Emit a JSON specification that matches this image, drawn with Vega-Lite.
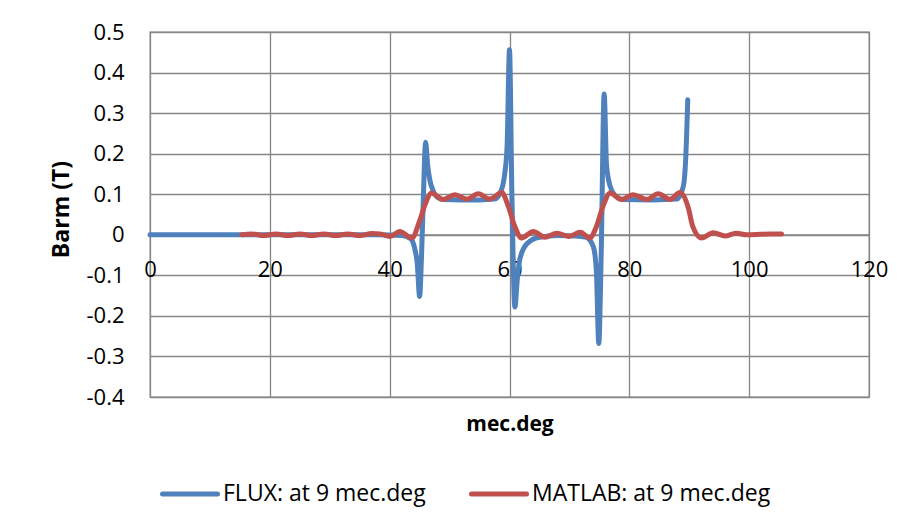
{
  "$schema": "https://vega.github.io/schema/vega-lite/v6.json",
  "width": 719,
  "height": 365,
  "autosize": {"type": "none"},
  "padding": {"left": 150, "top": 32, "right": 37, "bottom": 134},
  "background": "white",
  "config": {
    "font": "Open Sans",
    "view": {"stroke": "#868686", "strokeWidth": 1.3},
    "axisY": {
      "values": [-0.4, -0.3, -0.2, -0.1, 0, 0.1, 0.2, 0.3, 0.4, 0.5],
      "labelExpr": "toString(round(datum.value*10)/10)",
      "grid": true,
      "gridColor": "#868686",
      "gridWidth": 1.3,
      "gridOpacity": 1,
      "domain": false,
      "ticks": false,
      "labelPadding": 26,
      "labelFontSize": 22,
      "labelColor": "#000000",
      "labelFont": "Open Sans",
      "titleFont": "Open Sans",
      "titleFontSize": 23,
      "titleFontWeight": "bold",
      "titleColor": "#000000",
      "titleX": -77,
      "titleY": 177,
      "titleAngle": -90,
      "titleAlign": "center",
      "titleBaseline": "bottom",
      "zindex": 0
    }
  },
  "datasets": {
    "series": [
      {"s": "FLUX: at 9 mec.deg", "deg": 0, "barm": 0},
      {"s": "FLUX: at 9 mec.deg", "deg": 10, "barm": 0},
      {"s": "FLUX: at 9 mec.deg", "deg": 20, "barm": 0},
      {"s": "FLUX: at 9 mec.deg", "deg": 30, "barm": 0},
      {"s": "FLUX: at 9 mec.deg", "deg": 38, "barm": 0},
      {"s": "FLUX: at 9 mec.deg", "deg": 42, "barm": -0.002},
      {"s": "FLUX: at 9 mec.deg", "deg": 43.5, "barm": -0.01},
      {"s": "FLUX: at 9 mec.deg", "deg": 44.2, "barm": -0.035},
      {"s": "FLUX: at 9 mec.deg", "deg": 44.6, "barm": -0.07},
      {"s": "FLUX: at 9 mec.deg", "deg": 45.0, "barm": -0.152},
      {"s": "FLUX: at 9 mec.deg", "deg": 45.3, "barm": -0.06},
      {"s": "FLUX: at 9 mec.deg", "deg": 45.6, "barm": 0.08},
      {"s": "FLUX: at 9 mec.deg", "deg": 46.0, "barm": 0.228},
      {"s": "FLUX: at 9 mec.deg", "deg": 46.35, "barm": 0.17},
      {"s": "FLUX: at 9 mec.deg", "deg": 46.7, "barm": 0.135},
      {"s": "FLUX: at 9 mec.deg", "deg": 47.3, "barm": 0.107},
      {"s": "FLUX: at 9 mec.deg", "deg": 48, "barm": 0.092},
      {"s": "FLUX: at 9 mec.deg", "deg": 49, "barm": 0.087},
      {"s": "FLUX: at 9 mec.deg", "deg": 52, "barm": 0.086},
      {"s": "FLUX: at 9 mec.deg", "deg": 55, "barm": 0.086},
      {"s": "FLUX: at 9 mec.deg", "deg": 57.5, "barm": 0.088},
      {"s": "FLUX: at 9 mec.deg", "deg": 58.5, "barm": 0.105},
      {"s": "FLUX: at 9 mec.deg", "deg": 59.2, "barm": 0.15},
      {"s": "FLUX: at 9 mec.deg", "deg": 59.6, "barm": 0.22},
      {"s": "FLUX: at 9 mec.deg", "deg": 60.0, "barm": 0.456},
      {"s": "FLUX: at 9 mec.deg", "deg": 60.4, "barm": 0.1},
      {"s": "FLUX: at 9 mec.deg", "deg": 60.9, "barm": -0.178},
      {"s": "FLUX: at 9 mec.deg", "deg": 61.3, "barm": -0.11},
      {"s": "FLUX: at 9 mec.deg", "deg": 61.7, "barm": -0.062},
      {"s": "FLUX: at 9 mec.deg", "deg": 62.9, "barm": -0.022},
      {"s": "FLUX: at 9 mec.deg", "deg": 65, "barm": -0.006},
      {"s": "FLUX: at 9 mec.deg", "deg": 68, "barm": -0.002},
      {"s": "FLUX: at 9 mec.deg", "deg": 71, "barm": -0.003},
      {"s": "FLUX: at 9 mec.deg", "deg": 72.8, "barm": -0.006},
      {"s": "FLUX: at 9 mec.deg", "deg": 74.0, "barm": -0.03},
      {"s": "FLUX: at 9 mec.deg", "deg": 74.5, "barm": -0.09},
      {"s": "FLUX: at 9 mec.deg", "deg": 74.9, "barm": -0.268},
      {"s": "FLUX: at 9 mec.deg", "deg": 75.3, "barm": -0.05},
      {"s": "FLUX: at 9 mec.deg", "deg": 75.8, "barm": 0.347},
      {"s": "FLUX: at 9 mec.deg", "deg": 76.2, "barm": 0.17},
      {"s": "FLUX: at 9 mec.deg", "deg": 76.8, "barm": 0.12},
      {"s": "FLUX: at 9 mec.deg", "deg": 77.9, "barm": 0.093},
      {"s": "FLUX: at 9 mec.deg", "deg": 79, "barm": 0.087},
      {"s": "FLUX: at 9 mec.deg", "deg": 84, "barm": 0.086},
      {"s": "FLUX: at 9 mec.deg", "deg": 87.9, "barm": 0.088},
      {"s": "FLUX: at 9 mec.deg", "deg": 89.0, "barm": 0.119},
      {"s": "FLUX: at 9 mec.deg", "deg": 89.4, "barm": 0.185},
      {"s": "FLUX: at 9 mec.deg", "deg": 89.75, "barm": 0.333},
      {"s": "MATLAB: at 9 mec.deg", "deg": 15.3, "barm": 0},
      {"s": "MATLAB: at 9 mec.deg", "deg": 17, "barm": 0.002},
      {"s": "MATLAB: at 9 mec.deg", "deg": 19, "barm": -0.002},
      {"s": "MATLAB: at 9 mec.deg", "deg": 21, "barm": 0.002},
      {"s": "MATLAB: at 9 mec.deg", "deg": 23, "barm": -0.002},
      {"s": "MATLAB: at 9 mec.deg", "deg": 25, "barm": 0.002},
      {"s": "MATLAB: at 9 mec.deg", "deg": 27, "barm": -0.002},
      {"s": "MATLAB: at 9 mec.deg", "deg": 29, "barm": 0.002},
      {"s": "MATLAB: at 9 mec.deg", "deg": 31, "barm": -0.002},
      {"s": "MATLAB: at 9 mec.deg", "deg": 33, "barm": 0.002},
      {"s": "MATLAB: at 9 mec.deg", "deg": 35, "barm": -0.002},
      {"s": "MATLAB: at 9 mec.deg", "deg": 37, "barm": 0.003},
      {"s": "MATLAB: at 9 mec.deg", "deg": 38.4, "barm": 0.002},
      {"s": "MATLAB: at 9 mec.deg", "deg": 40.05, "barm": -0.004},
      {"s": "MATLAB: at 9 mec.deg", "deg": 41.7, "barm": 0.008},
      {"s": "MATLAB: at 9 mec.deg", "deg": 43.7, "barm": -0.008},
      {"s": "MATLAB: at 9 mec.deg", "deg": 45.06, "barm": 0.037},
      {"s": "MATLAB: at 9 mec.deg", "deg": 45.9, "barm": 0.074},
      {"s": "MATLAB: at 9 mec.deg", "deg": 47.0, "barm": 0.103},
      {"s": "MATLAB: at 9 mec.deg", "deg": 48.9, "barm": 0.087},
      {"s": "MATLAB: at 9 mec.deg", "deg": 50.9, "barm": 0.099},
      {"s": "MATLAB: at 9 mec.deg", "deg": 52.9, "barm": 0.088},
      {"s": "MATLAB: at 9 mec.deg", "deg": 54.8, "barm": 0.101},
      {"s": "MATLAB: at 9 mec.deg", "deg": 56.7, "barm": 0.088},
      {"s": "MATLAB: at 9 mec.deg", "deg": 58.7, "barm": 0.104},
      {"s": "MATLAB: at 9 mec.deg", "deg": 59.8, "barm": 0.07},
      {"s": "MATLAB: at 9 mec.deg", "deg": 60.9, "barm": 0.02},
      {"s": "MATLAB: at 9 mec.deg", "deg": 62.0, "barm": -0.008},
      {"s": "MATLAB: at 9 mec.deg", "deg": 63.95, "barm": 0.008},
      {"s": "MATLAB: at 9 mec.deg", "deg": 65.9, "barm": -0.006},
      {"s": "MATLAB: at 9 mec.deg", "deg": 67.9, "barm": 0.004},
      {"s": "MATLAB: at 9 mec.deg", "deg": 69.9, "barm": -0.004},
      {"s": "MATLAB: at 9 mec.deg", "deg": 71.8, "barm": 0.006},
      {"s": "MATLAB: at 9 mec.deg", "deg": 73.4, "barm": -0.008},
      {"s": "MATLAB: at 9 mec.deg", "deg": 74.5, "barm": 0.02},
      {"s": "MATLAB: at 9 mec.deg", "deg": 75.6, "barm": 0.07},
      {"s": "MATLAB: at 9 mec.deg", "deg": 76.8, "barm": 0.103},
      {"s": "MATLAB: at 9 mec.deg", "deg": 78.7, "barm": 0.087},
      {"s": "MATLAB: at 9 mec.deg", "deg": 80.6, "barm": 0.099},
      {"s": "MATLAB: at 9 mec.deg", "deg": 82.9, "barm": 0.087},
      {"s": "MATLAB: at 9 mec.deg", "deg": 84.8, "barm": 0.101},
      {"s": "MATLAB: at 9 mec.deg", "deg": 86.8, "barm": 0.087},
      {"s": "MATLAB: at 9 mec.deg", "deg": 88.45, "barm": 0.104},
      {"s": "MATLAB: at 9 mec.deg", "deg": 89.85, "barm": 0.066},
      {"s": "MATLAB: at 9 mec.deg", "deg": 90.6, "barm": 0.02},
      {"s": "MATLAB: at 9 mec.deg", "deg": 92.05, "barm": -0.008},
      {"s": "MATLAB: at 9 mec.deg", "deg": 94.0, "barm": 0.005},
      {"s": "MATLAB: at 9 mec.deg", "deg": 96.0, "barm": -0.003},
      {"s": "MATLAB: at 9 mec.deg", "deg": 97.8, "barm": 0.004},
      {"s": "MATLAB: at 9 mec.deg", "deg": 99.6, "barm": 0},
      {"s": "MATLAB: at 9 mec.deg", "deg": 101.8, "barm": 0.001},
      {"s": "MATLAB: at 9 mec.deg", "deg": 103.5, "barm": 0.002},
      {"s": "MATLAB: at 9 mec.deg", "deg": 105.4, "barm": 0.002}
    ]
  },
  "layer": [
    {
      "data": {"values": [{}]},
      "mark": {"type": "rule", "color": "#868686", "strokeWidth": 1.3},
      "encoding": {
        "x": {
          "datum": 0,
          "type": "quantitative",
          "scale": {"domain": [0, 120], "nice": false, "zero": false},
          "axis": {
            "values": [0, 20, 40, 60, 80, 100, 120],
            "format": "d",
            "orient": "bottom",
            "offset": -162,
            "grid": false,
            "domain": false,
            "ticks": false,
            "labels": true,
            "labelFlush": false,
            "labelOverlap": false,
            "labelPadding": 24,
            "labelFontSize": 22,
            "labelColor": "#000000",
            "labelFont": "Open Sans",
            "title": null,
            "zindex": 0
          }
        },
        "x2": {"datum": 120},
        "y": {
          "datum": 0,
          "type": "quantitative",
          "title": "Barm (T)",
          "scale": {"domain": [-0.4, 0.5], "nice": false, "zero": false}
        }
      }
    },
    {
      "data": {"name": "series"},
      "transform": [{"filter": "datum.s == 'FLUX: at 9 mec.deg'"}],
      "mark": {"type": "line", "strokeWidth": 5, "interpolate": "monotone", "strokeCap": "round", "strokeJoin": "round"},
      "encoding": {
        "x": {
          "field": "deg",
          "type": "quantitative",
          "scale": {"domain": [0, 120], "nice": false, "zero": false},
          "axis": {
            "values": [0, 20, 40, 60, 80, 100, 120],
            "orient": "bottom",
            "grid": true,
            "gridColor": "#868686",
            "gridWidth": 1.3,
            "gridOpacity": 1,
            "domain": false,
            "ticks": false,
            "labels": false,
            "title": "mec.deg",
            "titleFont": "Open Sans",
            "titleFontSize": 21,
            "titleFontWeight": "bold",
            "titleColor": "#000000",
            "titlePadding": 16,
            "zindex": 0
          }
        },
        "y": {
          "field": "barm",
          "type": "quantitative",
          "title": "Barm (T)",
          "scale": {"domain": [-0.4, 0.5], "nice": false, "zero": false}
        },
        "color": {
          "field": "s",
          "type": "nominal",
          "scale": {"domain": ["FLUX: at 9 mec.deg", "MATLAB: at 9 mec.deg"], "range": ["#4F81BD", "#C0504D"]},
          "legend": {
            "orient": "none",
            "legendX": 10,
            "legendY": 432,
            "direction": "horizontal",
            "columns": 2,
            "title": null,
            "symbolType": "stroke",
            "symbolSize": 3025,
            "symbolStrokeWidth": 5,
            "labelFontSize": 23,
            "labelFont": "Open Sans",
            "labelColor": "#000000",
            "labelOffset": 3,
            "columnPadding": 35,
            "labelLimit": 400,
            "encode": {"symbols": {"update": {"strokeCap": {"value": "round"}}}}
          }
        }
      }
    },
    {
      "data": {"name": "series"},
      "transform": [{"filter": "datum.s == 'MATLAB: at 9 mec.deg'"}],
      "mark": {"type": "line", "strokeWidth": 5, "interpolate": "monotone", "strokeCap": "round", "strokeJoin": "round"},
      "encoding": {
        "x": {
          "field": "deg",
          "type": "quantitative",
          "scale": {"domain": [0, 120], "nice": false, "zero": false},
          "axis": null
        },
        "y": {
          "field": "barm",
          "type": "quantitative",
          "title": "Barm (T)",
          "scale": {"domain": [-0.4, 0.5], "nice": false, "zero": false}
        },
        "color": {
          "field": "s",
          "type": "nominal",
          "scale": {"domain": ["FLUX: at 9 mec.deg", "MATLAB: at 9 mec.deg"], "range": ["#4F81BD", "#C0504D"]}
        }
      }
    }
  ],
  "resolve": {"axis": {"x": "independent"}}
}
